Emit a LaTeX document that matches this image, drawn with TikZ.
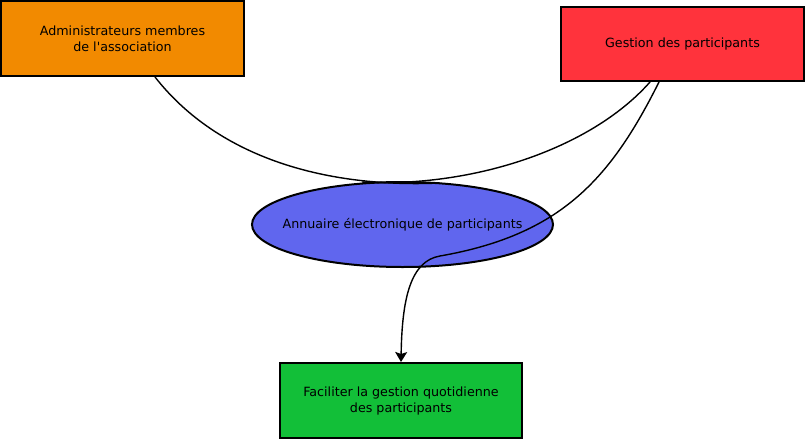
\documentclass[tikz,border=0pt]{standalone}
\usepackage{fontspec}
\setmainfont{DejaVu Sans}[Ligatures=TeXOff]
\usetikzlibrary{shapes.geometric,arrows.meta,calc}
\definecolor{corange}{HTML}{F28A00}
\definecolor{cred}{HTML}{FF333C}
\definecolor{cblue}{HTML}{6066EE}
\definecolor{cgreen}{HTML}{12BF38}
\begin{document}
\begin{tikzpicture}[x=1pt,y=-1pt,
  lbl/.style={font=\fontsize{12.7}{16}\selectfont,align=center},
  box/.style={draw=black,line width=2pt,rectangle,inner sep=0pt,lbl},
  conn/.style={draw=black,line width=1.4pt},
  arr/.style={conn,-{Stealth[length=10pt,width=12pt,inset=2pt]}}]
\useasboundingbox (0,0) rectangle (806,442);
\node[box,fill=corange,minimum width=243pt,minimum height=75pt] (adm) at (122.5,38.5)
  {Administrateurs membres\\de l'association};
\node[box,fill=cred,minimum width=243pt,minimum height=74pt] (ges) at (682.5,44)
  {Gestion des participants};
\node[draw=black,line width=2pt,ellipse,fill=cblue,inner sep=0pt,
  minimum width=301pt,minimum height=85pt,
  label={[lbl]center:Annuaire électronique de participants}] (ann) at (402.5,224.5) {};
\node[box,fill=cgreen,minimum width=242pt,minimum height=75pt] (fac) at (401,400.5)
  {Faciliter la gestion quotidienne\\des participants};
\coordinate (a1) at ([xshift=32.5pt]adm.south);
\coordinate (e1) at ([xshift=37.5pt,yshift=-2pt]ann.north);
\coordinate (g1) at ([xshift=-32.5pt]ges.south);
\coordinate (e2) at ([xshift=-40.5pt,yshift=-1pt]ann.north);
\coordinate (g2) at ([xshift=-23.5pt]ges.south);
\coordinate (m) at (440,256);
\draw[conn] (a1) .. controls (220,160) and (330,188) .. (e1);
\draw[conn] (g1) .. controls (590,150) and (470,188) .. (e2);
\draw[arr] (g2) .. controls (610,180) and (560,235) .. (m)
  .. controls (410,261) and (402,300) .. (fac.north);
\end{tikzpicture}
\end{document}
